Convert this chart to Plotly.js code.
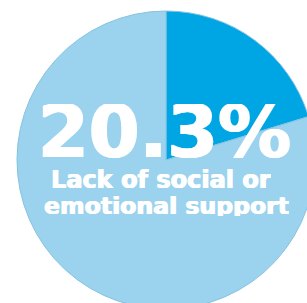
<!DOCTYPE html>
<html>
<head>
<meta charset="utf-8">
<script src="https://cdn.plot.ly/plotly-3.0.1.min.js"></script>
<style>
html,body{margin:0;padding:0;overflow:hidden;background:#fff;width:307px;height:303px;}
#chart{width:340px;height:320px;}
</style>
</head>
<body>
<div id="chart"></div>
<script>
var labels = ["Lack of social or emotional support", "Other"];
var values = [20.3, 79.7];
var colors = ["#00a6e4", "#9bd3ee"];
var headline = "20.3%";
var caption = ["Lack of social or", "emotional support"];

var W = 340, H = 320;
function px(x){return x/W;}
function py(y){return (H-y)/H;}

var data = [{
  type: "pie",
  labels: labels,
  values: values,
  sort: false,
  direction: "clockwise",
  rotation: 0,
  textinfo: "none",
  hoverinfo: "none",
  marker: {colors: colors, line: {color: "#86c2e0", width: 1}},
  domain: {x: [px(17), px(315)], y: [py(309), py(11)]},
  showlegend: false
}];

var thick = "0.6px 0 0 #ffffff, -0.6px 0 0 #ffffff";
var layout = {
  width: W, height: H,
  margin: {l:0, r:0, t:0, b:0},
  paper_bgcolor: "#ffffff",
  showlegend: false,
  annotations: [
    {text: "<b>" + headline + "</b>", x: px(164), y: py(131), xref: "paper", yref: "paper",
     xanchor: "center", yanchor: "middle", showarrow: false, height: 54,
     font: {family: "DejaVu Sans", size: 73, color: "#ffffff", shadow: "1px 0 0 #ffffff, -1px 0 0 #ffffff"}},
    {text: "<b>" + caption[0] + "</b>", x: px(161), y: py(179.5), xref: "paper", yref: "paper",
     xanchor: "center", yanchor: "middle", showarrow: false, height: 21,
     font: {family: "DejaVu Sans", size: 24, color: "#ffffff", shadow: thick}},
    {text: "<b>" + caption[1] + "</b>", x: px(166), y: py(205.5), xref: "paper", yref: "paper",
     xanchor: "center", yanchor: "middle", showarrow: false, height: 21,
     font: {family: "DejaVu Sans", size: 23.6, color: "#ffffff", shadow: thick}}
  ]
};

Plotly.newPlot("chart", data, layout, {displayModeBar: false, staticPlot: true});
</script>
</body>
</html>
